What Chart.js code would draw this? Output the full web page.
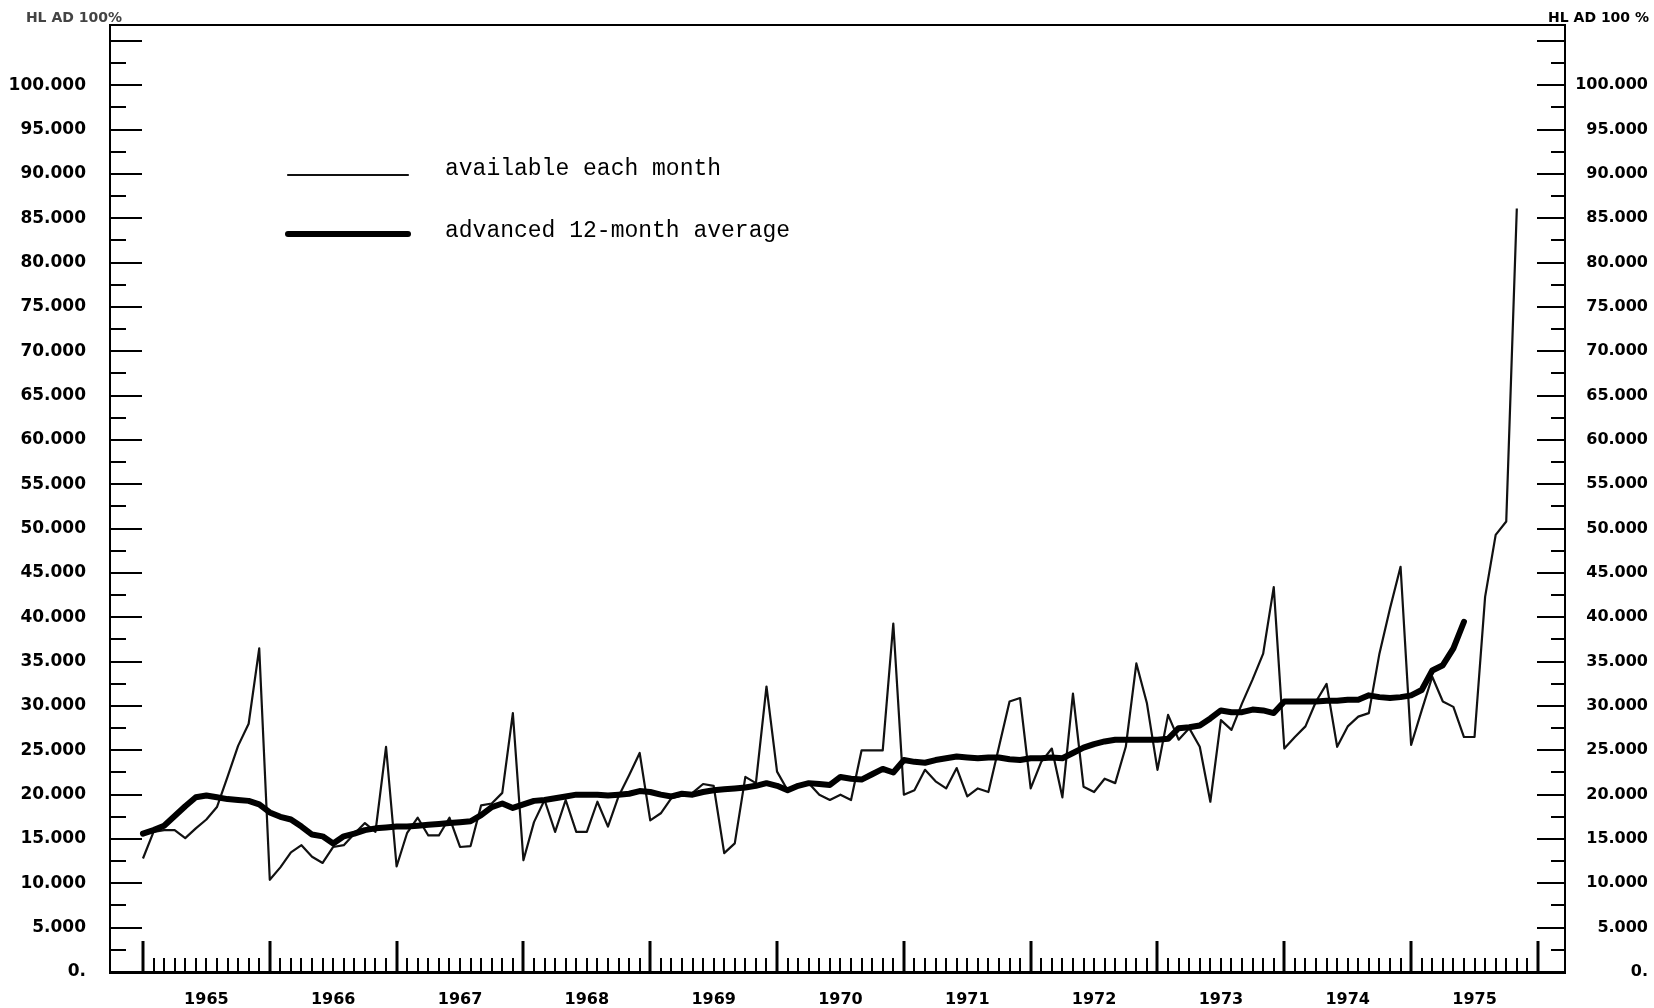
<!DOCTYPE html>
<html>
<head>
<meta charset="utf-8">
<title>HL AD 100 %</title>
<script src="https://cdn.jsdelivr.net/npm/chart.js@4.4.1/dist/chart.umd.min.js"></script>
<style>
  html, body { margin: 0; padding: 0; background: #fff; }
</style>
</head>
<body>
<canvas id="chartHL" width="1654" height="1008"></canvas>
<script>
// ===============================
//  DATA (HL AD 100 %, monthly from Jan 1965)
// ===============================
const years = [1965, 1966, 1967, 1968, 1969, 1970, 1971, 1972, 1973, 1974, 1975];

const seriesNames = ["available each month", "advanced 12-month average"];

// thin line: available each month
const monthlyHL = [
  12800, 15800, 16000, 16000, 15100, 16200, 17200, 18600, 22000, 25500, 28000, 36500,
  10400, 11800, 13500, 14300, 13000, 12300, 14100, 14300, 15600, 16800, 15800, 25400,
  11900, 15700, 17400, 15400, 15400, 17400, 14100, 14200, 18800, 19000, 20200, 29200,
  12600, 16900, 19400, 15800, 19400, 15800, 15800, 19200, 16400, 19800, 22200, 24700,
  17100, 17900, 19600, 19900, 20200, 21200, 21000, 13400, 14500, 22000, 21300, 32200,
  22600, 20500, 20900, 21300, 20000, 19400, 20000, 19400, 25000, 25000, 25000, 39300,
  20000, 20500, 22800, 21500, 20700, 23000, 19800, 20700, 20300, 25400, 30500, 30900,
  20700, 23700, 25200, 19700, 31400, 20900, 20300, 21800, 21300, 25400, 34800, 30300,
  22800, 29000, 26200, 27500, 25400, 19200, 28400, 27300, 30300, 33000, 35900, 43400,
  25200, 26500, 27700, 30500, 32500, 25400, 27700, 28800, 29200, 35900, 41000, 45700,
  25600, 29500, 33300, 30500, 29900, 26500, 26500, 42300, 49300, 50800, 86100
];

// thick line: advanced 12-month average
const avgHL = [
  15600, 16000, 16500, 17600, 18700, 19700, 19900, 19700, 19500, 19400, 19300, 18900,
  18000, 17500, 17200, 16400, 15500, 15300, 14500, 15300, 15600, 16000, 16200, 16300,
  16400, 16400, 16500, 16600, 16700, 16800, 16900, 17000, 17700, 18600, 19000, 18500,
  18900, 19300, 19400, 19600, 19800, 20000, 20000, 20000, 19900, 20000, 20100, 20400,
  20300, 20000, 19800, 20100, 20000, 20300, 20500, 20600, 20700, 20800, 21000, 21300,
  21000, 20500, 21000, 21300, 21200, 21100, 22000, 21800, 21700, 22300, 22900, 22500,
  23900, 23700, 23600, 23900, 24100, 24300, 24200, 24100, 24200, 24200, 24000, 23900,
  24100, 24100, 24200, 24100, 24700, 25300, 25700, 26000, 26200, 26200, 26200, 26200,
  26200, 26300, 27500, 27600, 27800, 28600, 29500, 29300, 29300, 29600, 29500, 29200,
  30500, 30500, 30500, 30500, 30600, 30600, 30700, 30700, 31200, 31000, 30900, 31000,
  31200, 31800, 34000, 34600, 36500, 39500
];

// y ticks every 2.500, labelled every 5.000 up to 100.000
const yTickValues = [];
for (let v = 0; v <= 105000; v += 2500) yTickValues.push(v);
const yLabelStep = 5000;
const yLabelTop = 100000;
const axisCaption = "HL AD 100 %";

// ===============================
//  HELPERS
// ===============================
const toPoints = arr => arr.map((v, i) => ({ x: i, y: v }));

function formatHL(v) {
  if (v === 0) return "0.";
  if (v % yLabelStep !== 0 || v > yLabelTop) return "";
  return (v / 1000) + ".000";
}

function line(ctx, x1, y1, x2, y2) {
  ctx.beginPath();
  ctx.moveTo(x1, y1);
  ctx.lineTo(x2, y2);
  ctx.stroke();
}

// ===============================
//  TICK MARKS (inside the frame)
// ===============================
const tickMarks = {
  id: "tickMarks",
  beforeDatasetsDraw(chart) {
    const { ctx, chartArea: a, scales: { x, y } } = chart;
    ctx.save();
    ctx.strokeStyle = "#000";
    ctx.lineCap = "butt";

    // y: long every 5.000, short every 2.500
    y.ticks.forEach(t => {
      if (t.value <= 0) return;
      const py = Math.round(y.getPixelForValue(t.value));
      const major = t.value % 5000 === 0;
      ctx.lineWidth = 2;
      line(ctx, a.left, py, a.left + (major ? 32 : 16), py);
      line(ctx, a.right, py, a.right - (major ? 28 : 14), py);
    });

    // x: one tick per month, tall at each January
    for (let m = 0; m <= years.length * 12; m++) {
      const px = Math.round(x.getPixelForValue(m));
      const jan = m % 12 === 0;
      ctx.lineWidth = jan ? 3 : 2;
      line(ctx, px, a.bottom, px, a.bottom - (jan ? 31 : 14));
    }

    // top frame line
    ctx.lineWidth = 2;
    line(ctx, a.left, a.top, a.right, a.top);
    ctx.restore();
  }
};

// ===============================
//  LEGEND + CAPTIONS
// ===============================
const legendBox = {
  id: "legendBox",
  afterDraw(chart) {
    const { ctx } = chart;
    const rows = [175, 234];
    const textRows = [169, 231];
    ctx.save();
    chart.data.datasets.forEach(ds => {
      const yy = rows[ds.legendRow];
      ctx.strokeStyle = ds.borderColor;
      ctx.lineWidth = ds.borderWidth;
      ctx.lineCap = "round";
      line(ctx, 288, yy, 408, yy);
      ctx.fillStyle = "#000";
      ctx.font = '23px "Liberation Mono"';
      ctx.textBaseline = "middle";
      ctx.textAlign = "left";
      ctx.fillText(ds.label, 445, textRows[ds.legendRow]);
    });

    ctx.font = 'bold 14px "DejaVu Sans"';
    ctx.textAlign = "right";
    ctx.textBaseline = "middle";
    ctx.fillStyle = "#444";
    ctx.fillText(axisCaption.replace(" %", "%"), 122, 18);
    ctx.fillStyle = "#000";
    ctx.fillText(axisCaption, 1649, 18);
    ctx.restore();
  }
};

// ===============================
//  CHART
// ===============================
let hlChart;

function createChart() {
  const ctx = document.getElementById("chartHL");
  const tickFont = size => ({ family: "DejaVu Sans", size, weight: "bold" });
  const setYTicks = s => { s.ticks = yTickValues.map(v => ({ value: v })); };
  // fixed axis widths, no extra room for half labels
  const fixWidth = w => s => { s.width = w; s.paddingTop = 0; s.paddingBottom = 0; };

  hlChart = new Chart(ctx, {
    type: "line",
    data: {
      datasets: [{
        label: seriesNames[0],
        data: toPoints(monthlyHL),
        borderColor: "#111",
        borderWidth: 2.2,
        pointRadius: 0,
        tension: 0,
        borderJoinStyle: "round",
        legendRow: 0,
        order: 2
      }, {
        label: seriesNames[1],
        data: toPoints(avgHL),
        borderColor: "#000",
        borderWidth: 6,
        pointRadius: 0,
        tension: 0,
        borderJoinStyle: "round",
        borderCapStyle: "round",
        legendRow: 1,
        order: 1
      }]
    },
    options: {
      responsive: false,
      animation: false,
      layout: { padding: { top: 25, right: 6, left: 0, bottom: 0 } },
      plugins: { legend: { display: false }, tooltip: { enabled: false } },
      scales: {
        x: {
          type: "linear",
          position: "bottom",
          min: -3.12,
          max: 134.56,
          grid: { display: false, drawTicks: false },
          border: { display: true, color: "#000", width: 3 },
          afterBuildTicks: s => { s.ticks = years.map((yr, i) => ({ value: i * 12 + 6 })); },
          afterFit: s => { s.height = 36; s.paddingLeft = 0; s.paddingRight = 0; },
          ticks: {
            autoSkip: false,
            maxRotation: 0,
            padding: 18,
            color: "#000",
            font: tickFont(16),
            callback: v => years[Math.round((v - 6) / 12)]
          }
        },
        y: {
          position: "left",
          min: 0,
          max: 106800,
          grid: { display: false, drawTicks: false },
          border: { display: true, color: "#000", width: 2 },
          afterBuildTicks: setYTicks,
          afterFit: fixWidth(110),
          ticks: { autoSkip: false, padding: 24, color: "#000", font: tickFont(17), callback: formatHL }
        },
        y2: {
          position: "right",
          min: 0,
          max: 106800,
          grid: { display: false, drawTicks: false },
          border: { display: true, color: "#000", width: 2 },
          afterBuildTicks: setYTicks,
          afterFit: fixWidth(83),
          ticks: { autoSkip: false, crossAlign: "far", color: "#000", font: tickFont(16), callback: formatHL }
        }
      }
    },
    plugins: [tickMarks, legendBox]
  });
}

createChart();
</script>
</body>
</html>
